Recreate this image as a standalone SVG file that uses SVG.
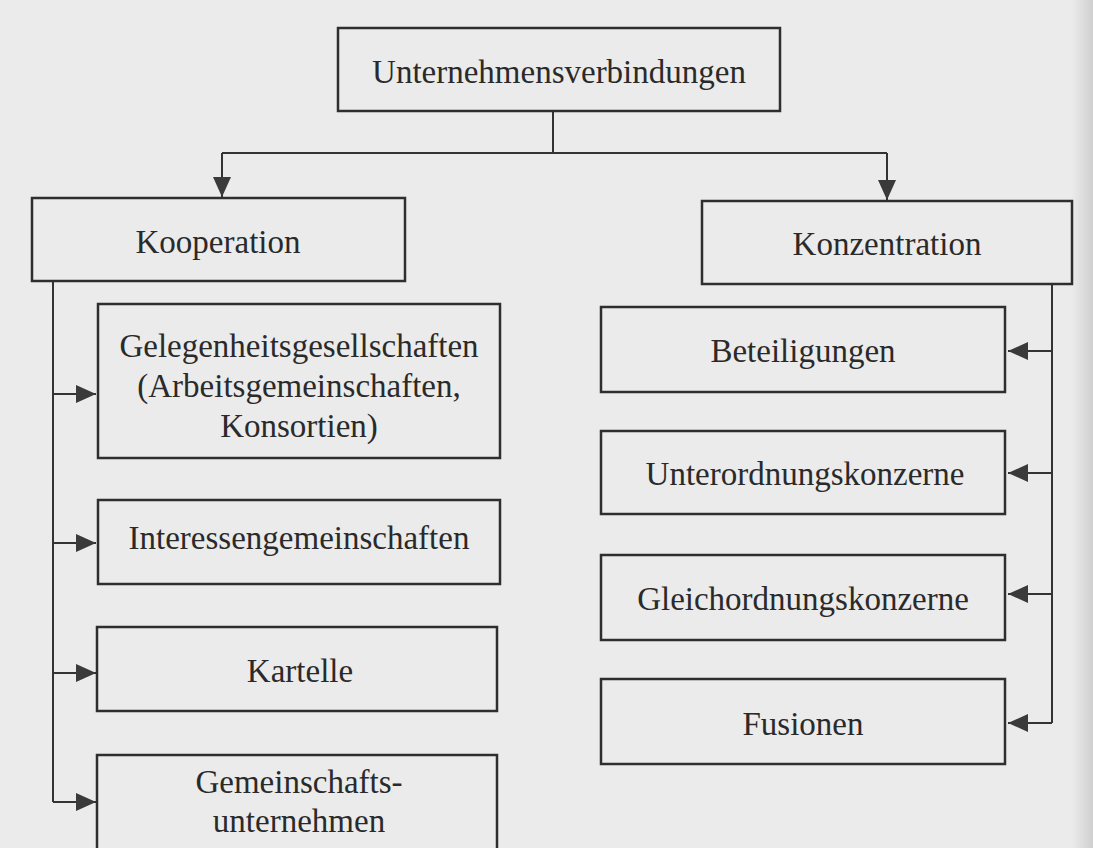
<svg xmlns="http://www.w3.org/2000/svg" width="1093" height="848" viewBox="0 0 1093 848">
  <defs>
    <style>
      .box { fill: none; stroke: #2e2e2e; stroke-width: 2.5; }
      .lbl { font-family: "Liberation Serif", "Times New Roman", serif; font-size: 33px; fill: #2a2a2a; text-anchor: middle; }
      .con { fill: none; stroke: #333333; stroke-width: 2; }
    </style>
    <marker id="arr" viewBox="0 0 20 18" refX="20" refY="9" markerWidth="20" markerHeight="18" markerUnits="userSpaceOnUse" orient="auto">
      <path d="M0,0 L20,9 L0,18 Z" fill="#3a3a3a"/>
    </marker>
    <linearGradient id="edge" x1="0" y1="0" x2="1" y2="0">
      <stop offset="0" stop-color="#ebebeb"/>
      <stop offset="1" stop-color="#cfcfcf"/>
    </linearGradient>
  </defs>

  <rect x="0" y="0" width="1093" height="848" fill="#ebebeb"/>
  <rect x="1072" y="0" width="21" height="848" fill="url(#edge)"/>

  <g id="connectors">
    <path class="con" d="M553,111 V153"/>
    <path class="con" d="M222,153 H887"/>
    <path class="con" d="M222,153 V197" marker-end="url(#arr)"/>
    <path class="con" d="M887,153 V200" marker-end="url(#arr)"/>
    <path class="con" d="M53,281 V802"/>
    <path class="con" d="M53,394 H96" marker-end="url(#arr)"/>
    <path class="con" d="M53,543 H96" marker-end="url(#arr)"/>
    <path class="con" d="M53,673 H96" marker-end="url(#arr)"/>
    <path class="con" d="M53,802 H96" marker-end="url(#arr)"/>
    <path class="con" d="M1052,284 V723"/>
    <path class="con" d="M1052,351 H1008" marker-end="url(#arr)"/>
    <path class="con" d="M1052,473 H1008" marker-end="url(#arr)"/>
    <path class="con" d="M1052,594 H1008" marker-end="url(#arr)"/>
    <path class="con" d="M1052,723 H1008" marker-end="url(#arr)"/>
  </g>

  <g id="unternehmensverbindungen">
    <rect class="box" x="338" y="28" width="442" height="83"/>
    <text class="lbl" x="559" y="83">Unternehmensverbindungen</text>
  </g>

  <g id="kooperation">
    <rect class="box" x="32" y="198" width="373" height="83"/>
    <text class="lbl" x="218" y="253">Kooperation</text>
  </g>

  <g id="konzentration">
    <rect class="box" x="702" y="201" width="370" height="83"/>
    <text class="lbl" x="887" y="255">Konzentration</text>
  </g>

  <g id="gelegenheitsgesellschaften">
    <rect class="box" x="98" y="304" width="402" height="154"/>
    <text class="lbl" x="299" y="357">Gelegenheitsgesellschaften</text>
    <text class="lbl" x="299" y="397">(Arbeitsgemeinschaften,</text>
    <text class="lbl" x="299" y="437">Konsortien)</text>
  </g>

  <g id="interessengemeinschaften">
    <rect class="box" x="98" y="500" width="402" height="84"/>
    <text class="lbl" x="299" y="549">Interessengemeinschaften</text>
  </g>

  <g id="kartelle">
    <rect class="box" x="97" y="627" width="400" height="84"/>
    <text class="lbl" x="300" y="682">Kartelle</text>
  </g>

  <g id="gemeinschaftsunternehmen">
    <rect class="box" x="97" y="755" width="400" height="110"/>
    <text class="lbl" x="299" y="793">Gemeinschafts-</text>
    <text class="lbl" x="299" y="832">unternehmen</text>
  </g>

  <g id="beteiligungen">
    <rect class="box" x="601" y="307" width="404" height="85"/>
    <text class="lbl" x="803" y="362">Beteiligungen</text>
  </g>

  <g id="unterordnungskonzerne">
    <rect class="box" x="601" y="431" width="404" height="83"/>
    <text class="lbl" x="805" y="485">Unterordnungskonzerne</text>
  </g>

  <g id="gleichordnungskonzerne">
    <rect class="box" x="601" y="555" width="404" height="85"/>
    <text class="lbl" x="803" y="610">Gleichordnungskonzerne</text>
  </g>

  <g id="fusionen">
    <rect class="box" x="601" y="679" width="404" height="85"/>
    <text class="lbl" x="803" y="735">Fusionen</text>
  </g>
</svg>
